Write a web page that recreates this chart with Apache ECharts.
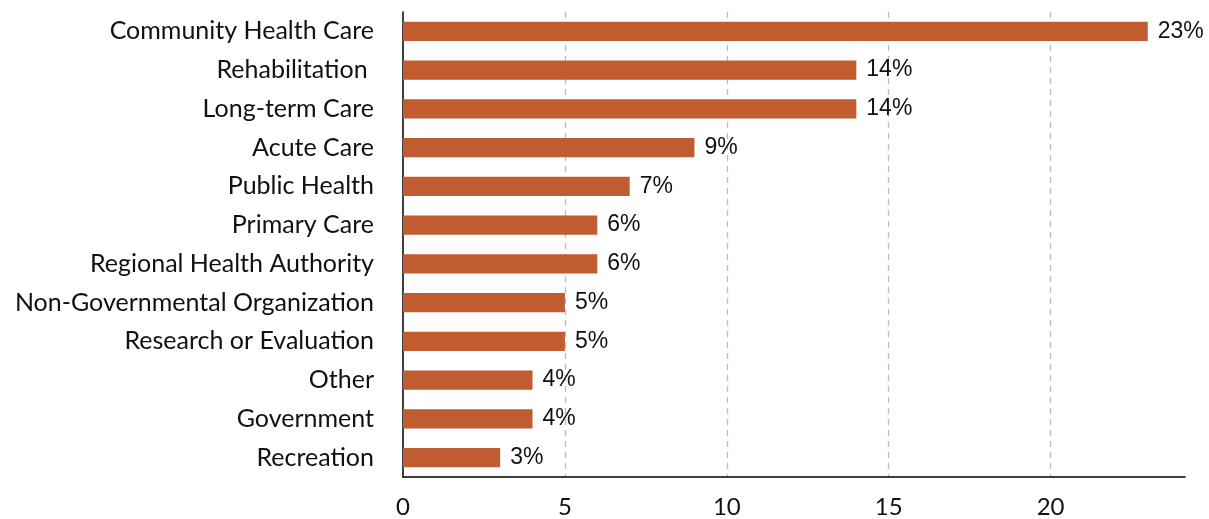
<!DOCTYPE html>
<html>
<head>
<meta charset="utf-8">
<script src="https://cdn.jsdelivr.net/npm/echarts@6/dist/echarts.min.js"></script>
<style>html,body{margin:0;padding:0;background:#fff}#c{width:1209px;height:519px}</style>
</head>
<body>
<div id="c"></div>
<script>
const categories = ["Community Health Care","Rehabilitation ","Long-term Care","Acute Care","Public Health","Primary Care","Regional Health Authority","Non-Governmental Organization","Research or Evaluation","Other","Government","Recreation"];
const values = [23,14,14,9,7,6,6,5,5,4,4,3];
const xTicks = [0,5,10,15,20];

const chart = echarts.init(document.getElementById('c'));
chart.setOption({
  animation:false,
  grid:{left:403,right:24,top:12,bottom:42,containLabel:false},
  xAxis:{
    type:'value',min:0,max:24.15,interval:5,
    axisLine:{show:true,lineStyle:{color:'#000',width:1.5}},
    axisTick:{show:false},
    axisLabel:{color:'#111',fontSize:24,fontFamily:'Lato, sans-serif',margin:18,
      showMaxLabel:false,
      formatter:v=>xTicks.includes(v)?String(v):''},
    splitLine:{show:true,showMinLine:false,showMaxLine:false,lineStyle:{color:'#bbb',type:[6,5],width:1.3}}
  },
  yAxis:{
    type:'category',data:categories,inverse:true,
    axisLine:{show:true,lineStyle:{color:'#000',width:1.5}},
    axisTick:{show:false},
    axisLabel:{color:'#111',fontSize:25,fontFamily:'Lato, sans-serif',margin:29}
  },
  series:[{
    type:'bar',data:values,barWidth:'50%',
    itemStyle:{color:'#c15b30'},
    label:{show:true,position:'right',distance:10,formatter:'{c}%',color:'#111',fontSize:23,fontFamily:'Liberation Sans, Arial, sans-serif'}
  }]
});
</script>
</body>
</html>
